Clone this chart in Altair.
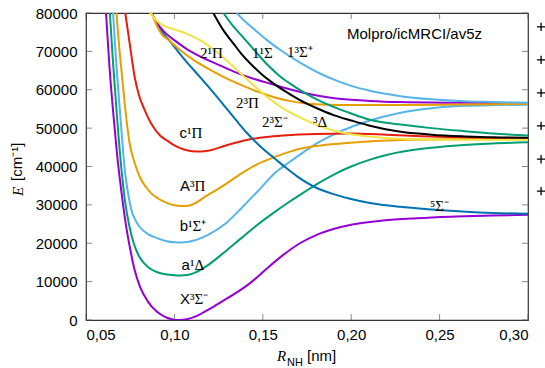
import altair as alt
import pandas as pd

# ---------------- data ----------------
X_r = [0.0613, 0.0632, 0.0652, 0.0675, 0.0700, 0.0725, 0.0750, 0.0775, 0.0805, 0.0850, 0.0900, 0.0950, 0.1000, 0.1030, 0.1070, 0.1110, 0.1150, 0.1200, 0.1286, 0.1333, 0.1428, 0.1520, 0.1614, 0.1710, 0.1805, 0.1900, 0.2000, 0.2180, 0.2370, 0.2560, 0.2800, 0.3000]
X_E = [80000, 66500, 55000, 43500, 33500, 25000, 18500, 13000, 8700, 4800, 2200, 750, 80, 0, 200, 750, 1600, 2900, 5300, 6600, 9600, 13300, 16900, 20000, 22200, 23700, 24800, 25900, 26500, 26900, 27200, 27400]

a_r = [0.0635, 0.0653, 0.0672, 0.0700, 0.0722, 0.0745, 0.0770, 0.0800, 0.0850, 0.0900, 0.0950, 0.1000, 0.1035, 0.1080, 0.1120, 0.1190, 0.1286, 0.1380, 0.1470, 0.1560, 0.1640, 0.1730, 0.1820, 0.1918, 0.2000, 0.2106, 0.2200, 0.2400, 0.2600, 0.2800, 0.3000]
a_E = [80000, 67000, 55000, 39500, 30500, 24500, 20000, 16600, 13800, 12500, 11900, 11650, 11600, 11800, 12400, 14300, 17800, 21400, 24800, 27900, 30500, 33200, 35800, 38300, 40000, 41800, 43000, 44600, 45500, 46000, 46300]

b_r = [0.0653, 0.0671, 0.0691, 0.0722, 0.0740, 0.0756, 0.0780, 0.0803, 0.0850, 0.0888, 0.0950, 0.1000, 0.1035, 0.1080, 0.1190, 0.1286, 0.1380, 0.1470, 0.1569, 0.1640, 0.1729, 0.1820, 0.1918, 0.2010, 0.2106, 0.2267, 0.2455, 0.2644, 0.2800, 0.3000]
b_E = [80000, 67000, 55000, 38000, 32500, 28800, 26000, 24300, 22400, 21600, 20600, 20250, 20200, 20400, 22200, 25000, 29200, 33500, 38300, 40800, 43700, 46400, 48700, 50500, 52000, 53900, 55200, 55800, 56000, 56100]

A_r = [0.0672, 0.0690, 0.0705, 0.0722, 0.0747, 0.0775, 0.0803, 0.0840, 0.0869, 0.0910, 0.0954, 0.1000, 0.1040, 0.1080, 0.1190, 0.1286, 0.1380, 0.1470, 0.1569, 0.1650, 0.1730, 0.1830, 0.1993, 0.2276, 0.2600, 0.3000]
A_E = [80000, 70000, 63000, 55000, 46000, 41000, 37400, 34600, 33000, 31600, 30600, 29900, 29700, 29800, 32600, 35300, 38200, 40600, 42500, 43800, 44800, 45500, 46200, 46900, 47100, 47200]

c_r = [0.0722, 0.0747, 0.0775, 0.0800, 0.0832, 0.0879, 0.0920, 0.0954, 0.1000, 0.1050, 0.1100, 0.1150, 0.1200, 0.1286, 0.1409, 0.1520, 0.1616, 0.1800, 0.1993, 0.2200, 0.2400, 0.2600, 0.2800, 0.3000]
c_E = [80000, 72100, 63400, 58500, 54700, 50400, 48000, 46900, 45500, 44500, 44000, 43900, 44200, 45400, 46900, 47700, 48100, 48500, 48600, 48300, 47900, 47600, 47400, 47300]

q_r = [0.0870, 0.0920, 0.0970, 0.1003, 0.1070, 0.1145, 0.1192, 0.1286, 0.1350, 0.1409, 0.1480, 0.1540, 0.1614, 0.1692, 0.1805, 0.1900, 0.1993, 0.2106, 0.2276, 0.2455, 0.2650, 0.2800, 0.3000]
q_E = [80000, 75800, 72900, 71000, 67200, 63300, 60800, 55600, 52000, 48800, 45500, 43100, 40300, 37500, 34400, 32800, 31600, 30500, 29500, 28800, 28200, 27900, 27700]

p2_r = [0.0870, 0.0900, 0.0940, 0.1003, 0.1070, 0.1145, 0.1250, 0.1333, 0.1420, 0.1540, 0.1616, 0.1730, 0.1830, 0.1918, 0.2106, 0.2276, 0.2600, 0.3000]
p2_E = [80000, 77500, 75200, 72800, 70600, 68700, 66500, 64800, 63300, 61600, 60600, 59200, 58300, 57700, 57100, 56800, 56600, 56500]

t2_r = [0.0871, 0.0900, 0.0928, 0.0960, 0.1003, 0.1050, 0.1120, 0.1190, 0.1280, 0.1380, 0.1470, 0.1569, 0.1650, 0.1730, 0.1830, 0.1993, 0.2300, 0.2600, 0.3000]
t2_E = [80000, 76800, 74500, 73200, 71500, 69700, 67400, 65500, 63300, 61200, 59500, 58000, 57100, 56500, 56150, 56000, 56050, 56150, 56300]

s2_r = [0.0862, 0.0900, 0.0950, 0.1003, 0.1060, 0.1107, 0.1150, 0.1201, 0.1280, 0.1352, 0.1440, 0.1522, 0.1610, 0.1710, 0.1800, 0.1899, 0.2000, 0.2100, 0.2276, 0.2500, 0.3000]
s2_E = [80000, 78000, 76500, 75700, 74800, 73800, 72800, 71200, 68300, 65200, 61500, 58200, 55300, 52800, 50900, 49400, 48400, 47800, 47200, 47000, 47000]

d_r = [0.1220, 0.1270, 0.1333, 0.1380, 0.1428, 0.1490, 0.1550, 0.1630, 0.1710, 0.1800, 0.1900, 0.2000, 0.2100, 0.2270, 0.2455, 0.2644, 0.2800, 0.3000]
d_E = [80000, 76000, 72100, 69300, 66900, 64200, 62000, 59500, 57300, 55300, 53400, 52000, 50700, 49100, 48300, 47850, 47600, 47500]

g1_r = [0.1277, 0.1330, 0.1390, 0.1460, 0.1522, 0.1600, 0.1654, 0.1730, 0.1805, 0.1918, 0.2000, 0.2106, 0.2200, 0.2267, 0.2455, 0.2644, 0.2800, 0.3000]
g1_E = [80000, 76700, 73600, 69900, 66700, 63400, 61600, 59400, 57500, 55200, 53800, 52200, 51400, 51000, 50000, 49200, 48600, 48100]

l1_r = [0.1352, 0.1400, 0.1450, 0.1522, 0.1620, 0.1720, 0.1820, 0.1910, 0.2000, 0.2100, 0.2270, 0.2455, 0.2644, 0.2800, 0.3000]
l1_E = [80000, 77800, 75800, 73000, 69700, 66800, 64300, 62500, 61000, 59800, 58400, 57500, 57000, 56800, 56600]

state_names = ["X3S-", "a1D", "b1S+", "A3P", "c1P", "5S-", "21P", "23P", "23S-", "3D", "11S", "13S+"]
state_colors = ["#9400D3", "#009E73", "#56B4E9", "#E69F00", "#E51E10", "#0072B2",
                "#9400D3", "#E69F00", "#F0E442", "#000000", "#009E73", "#56B4E9"]
state_r = [X_r, a_r, b_r, A_r, c_r, q_r, p2_r, t2_r, s2_r, d_r, g1_r, l1_r]
state_E = [X_E, a_E, b_E, A_E, c_E, q_E, p2_E, t2_E, s2_E, d_E, g1_E, l1_E]

# labels with a sans-serif letter prefix and a serif term symbol
pre_letter = ["c", "A", "b", "a", "X"]
pre_term = ["¹Π", "³Π", "¹Σ⁺", "¹Δ", "³Σ⁻"]
pre_r = [0.1071, 0.1088, 0.1077, 0.1088, 0.1088]
pre_E = [47430, 33620, 23190, 13030, 4170]

# fully serif labels (left aligned)
ser_text = ["2¹Π", "1¹Σ", "1³Σ⁺", "2³Π", "2³Σ⁻", "³Δ", "⁵Σ⁻"]
ser_r = [0.1145, 0.1439, 0.1637, 0.1348, 0.1495, 0.1784, 0.2446]
ser_E = [68280, 68280, 68540, 55250, 50300, 50300, 28410]

note_text = ["Molpro/icMRCI/av5z"]
note_r = [0.1976]
note_E = [73230]

plus_r = [0.3074] * 6
plus_E = [76400, 67800, 59200, 50600, 41900, 33600]

x_ticks = [0.05, 0.10, 0.15, 0.20, 0.25, 0.30]
y_ticks = [0, 10000, 20000, 30000, 40000, 50000, 60000, 70000, 80000]

# ---------------- build tables ----------------
rows = []
for name, rs, es in zip(state_names, state_r, state_E):
    for r, e in zip(rs, es):
        rows.append({"state": name, "r": r, "E": e})
curves = pd.DataFrame(rows)

pre_df = pd.DataFrame({"letter": pre_letter, "term": pre_term, "r": pre_r, "E": pre_E})
ser_df = pd.DataFrame({"text": ser_text, "r": ser_r, "E": ser_E})
note_df = pd.DataFrame({"text": note_text, "r": note_r, "E": note_E})
plus_df = pd.DataFrame({"r": plus_r, "E": plus_E})
xt_df = pd.DataFrame({"r": x_ticks, "lo": [0] * len(x_ticks), "hi": [80000] * len(x_ticks)})
yt_df = pd.DataFrame({"E": y_ticks, "lo": [0.05] * len(y_ticks), "hi": [0.30] * len(y_ticks)})

xs = alt.Scale(domain=[0.05, 0.30], nice=False, zero=False)
ys = alt.Scale(domain=[0, 80000], nice=False, zero=False)

SANS = "Liberation Sans"
SERIF = "Liberation Serif"
FS = 15

x_axis = alt.Axis(values=x_ticks, title=None, grid=False, domain=False, ticks=False,
                  labelExpr="replace(format(datum.value, '.2f'), '.', ',')",
                  labelFont=SANS, labelFontSize=FS, labelColor="black", labelPadding=7)
y_axis = alt.Axis(values=y_ticks, title=None, grid=False, domain=False, ticks=False, format="d",
                  labelFont=SANS, labelFontSize=FS, labelColor="black", labelPadding=9)


def xq(f):
    return alt.X(f, type="quantitative", scale=xs, axis=x_axis)


def yq(f):
    return alt.Y(f, type="quantitative", scale=ys, axis=y_axis)


lines = alt.Chart(curves).mark_line(strokeWidth=2, interpolate="monotone", clip=True).encode(
    x=xq("r"), y=yq("E"),
    color=alt.Color("state:N", scale=alt.Scale(domain=state_names, range=state_colors), legend=None),
    detail="state:N",
)

tick_col = "#555555"
t_bottom = alt.Chart(xt_df).mark_tick(orient="vertical", size=6, thickness=1, yOffset=-3, color=tick_col).encode(x=xq("r"), y=yq("lo"))
t_top = alt.Chart(xt_df).mark_tick(orient="vertical", size=6, thickness=1, yOffset=3, color=tick_col).encode(x=xq("r"), y=yq("hi"))
t_left = alt.Chart(yt_df).mark_tick(orient="horizontal", size=6, thickness=1, xOffset=3, color=tick_col).encode(x=xq("lo"), y=yq("E"))
t_right = alt.Chart(yt_df).mark_tick(orient="horizontal", size=6, thickness=1, xOffset=-3, color=tick_col).encode(x=xq("hi"), y=yq("E"))

lab_letter = alt.Chart(pre_df).mark_text(font=SANS, fontSize=FS, align="right", baseline="alphabetic", color="black").encode(
    x=xq("r"), y=yq("E"), text="letter:N")
lab_term = alt.Chart(pre_df).mark_text(font=SERIF, fontSize=FS, align="left", baseline="alphabetic", color="black").encode(
    x=xq("r"), y=yq("E"), text="term:N")
lab_serif = alt.Chart(ser_df).mark_text(font=SERIF, fontSize=FS, align="left", baseline="alphabetic", color="black").encode(
    x=xq("r"), y=yq("E"), text="text:N")
note = alt.Chart(note_df).mark_text(font=SANS, fontSize=FS, align="left", baseline="alphabetic", color="black").encode(
    x=xq("r"), y=yq("E"), text="text:N")

plus = alt.Chart(plus_df).mark_point(shape="M-1,0L1,0M0,-1L0,1", size=70, filled=False,
                                     stroke="black", strokeWidth=1.3, opacity=1, clip=False).encode(
    x=xq("r"), y=yq("E"))

# axis titles (mixed fonts)
xt_R = alt.Chart(note_df).mark_text(text="R", font=SERIF, fontStyle="italic", fontSize=FS, align="left",
                                    baseline="alphabetic", color="black").encode(x=alt.value(191), y=alt.value(348))
xt_NH = alt.Chart(note_df).mark_text(text="NH", font=SANS, fontSize=11, align="left",
                                     baseline="alphabetic", color="black").encode(x=alt.value(201), y=alt.value(353))
xt_nm = alt.Chart(note_df).mark_text(text="[nm]", font=SANS, fontSize=FS, align="left",
                                     baseline="alphabetic", color="black").encode(x=alt.value(221), y=alt.value(348))
yt_E = alt.Chart(note_df).mark_text(text="E", font=SERIF, fontStyle="italic", fontSize=FS, align="left", angle=270,
                                    baseline="alphabetic", color="black").encode(x=alt.value(-63), y=alt.value(183))
yt_cm = alt.Chart(note_df).mark_text(text="[cm⁻¹]", font=SANS, fontSize=FS, align="left", angle=270,
                                     baseline="alphabetic", color="black").encode(x=alt.value(-64), y=alt.value(168))

chart = alt.layer(
    lines, t_bottom, t_top, t_left, t_right,
    lab_letter, lab_term, lab_serif, note, plus,
    xt_R, xt_NH, xt_nm, yt_E, yt_cm,
).properties(
    width=442, height=307,
    padding={"left": 86, "top": 13, "right": 17, "bottom": 48},
    autosize=alt.AutoSizeParams(type="none"),
    background="white",
).configure_view(stroke="#333333", strokeWidth=1.2)

chart.save("out.html", embed_options={"renderer": "svg", "actions": False})
